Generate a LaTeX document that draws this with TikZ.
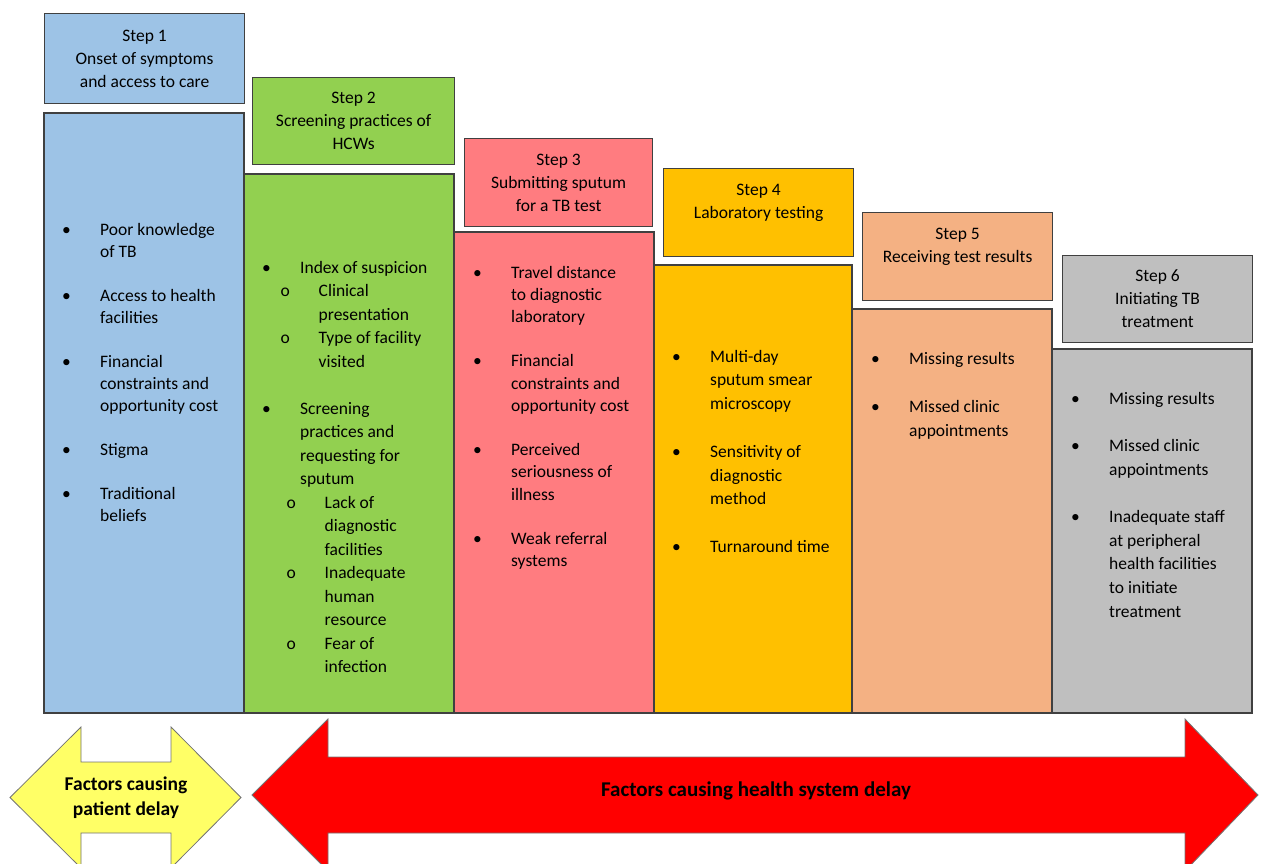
\documentclass[tikz,border=0pt]{standalone}
\usepackage{fontspec}
\setmainfont{Carlito}

\definecolor{boxline}{HTML}{404040}
\definecolor{stepblue}{HTML}{9DC3E6}
\definecolor{stepgreen}{HTML}{92D050}
\definecolor{steppink}{HTML}{FF7C80}
\definecolor{steporange}{HTML}{FFC000}
\definecolor{steppeach}{HTML}{F4B183}
\definecolor{stepgray}{HTML}{BFBFBF}
\definecolor{patientyellow}{HTML}{FFFF66}
\definecolor{systemred}{HTML}{FF0000}

% bullet, sub bullet and indent of the lists
\newcommand{\bl}{\makebox[38pt][l]{\textbullet}}
\newcommand{\sbl}{\makebox[38pt][l]{o}}
\newcommand{\ind}{\hspace*{38pt}}

\tikzset{
  stephead/.style={draw=boxline, line width=1.2pt, inner sep=0pt, align=center,
    anchor=north west, font=\fontsize{17.5}{23}\selectfont},
  bodybox/.style={draw=boxline, line width=1.2pt},
  itemlist/.style={anchor=base west, inner sep=0pt},
  delayarrow/.style={draw=black!55, line width=0.8pt},
  delaytext/.style={align=center, inner sep=0pt, font=\bfseries\fontsize{19.5}{25}\selectfont}
}

\begin{document}
\begin{tikzpicture}[x=1pt, y=-1pt]
  \useasboundingbox (0,0) rectangle (1269,864);

  % Step headers
  \node[stephead, fill=stepblue, minimum width=200pt, minimum height=90pt] (s1) at (44,13)
    {Step 1\\Onset of symptoms\\and access to care};
  \node[stephead, fill=stepgreen, minimum width=202pt, minimum height=87pt] (s2) at (252,77)
    {Step 2\\Screening practices of\\HCWs};
  \node[stephead, fill=steppink, minimum width=188pt, minimum height=88pt] (s3) at (464,138)
    {Step 3\\Submitting sputum\\for a TB test};
  \node[stephead, fill=steporange, minimum width=190pt, minimum height=88pt] (s4) at (663,168)
    {Step 4\\Laboratory testing\\\mbox{}};
  \node[stephead, fill=steppeach, minimum width=190pt, minimum height=88pt] (s5) at (862,212)
    {Step 5\\Receiving test results\\\mbox{}};
  \node[stephead, fill=stepgray, minimum width=190pt, minimum height=87pt] (s6) at (1062,255)
    {Step 6\\Initiating TB\\treatment};

  % Columns of factors
  \filldraw[bodybox, fill=stepblue] (44,113) rectangle (244,713);
  \filldraw[bodybox, fill=stepgreen] (244,174) rectangle (454,713);
  \filldraw[bodybox, fill=steppink] (454,232) rectangle (654,713);
  \filldraw[bodybox, fill=steporange] (654,265) rectangle (852,713);
  \filldraw[bodybox, fill=steppeach] (852,309) rectangle (1052,713);
  \filldraw[bodybox, fill=stepgray] (1052,349) rectangle (1252,713);

  % Lists
  \node[itemlist, font=\fontsize{17.5}{22}\selectfont] (l1) at (62,235) {%
    \begin{tabular}[t]{@{}l@{}}
      \bl Poor knowledge\\ \ind of TB\\[22pt]
      \bl Access to health\\ \ind facilities\\[22pt]
      \bl Financial\\ \ind constraints and\\ \ind opportunity cost\\[22pt]
      \bl Stigma\\[22pt]
      \bl Traditional\\ \ind beliefs
    \end{tabular}};
  \node[itemlist, font=\fontsize{17.5}{23.5}\selectfont] (l2) at (262,273) {%
    \begin{tabular}[t]{@{}l@{}}
      \bl Index of suspicion\\
      \hspace*{18.5pt}\sbl Clinical\\ \hspace*{56.5pt}presentation\\
      \hspace*{18.5pt}\sbl Type of facility\\ \hspace*{56.5pt}visited\\[23.5pt]
      \bl Screening\\ \ind practices and\\ \ind requesting for\\ \ind sputum\\
      \hspace*{24.5pt}\sbl Lack of\\ \hspace*{62.5pt}diagnostic\\ \hspace*{62.5pt}facilities\\
      \hspace*{24.5pt}\sbl Inadequate\\ \hspace*{62.5pt}human\\ \hspace*{62.5pt}resource\\
      \hspace*{24.5pt}\sbl Fear of\\ \hspace*{62.5pt}infection
    \end{tabular}};
  \node[itemlist, font=\fontsize{17.5}{22.2}\selectfont] (l3) at (473,278) {%
    \begin{tabular}[t]{@{}l@{}}
      \bl Travel distance\\ \ind to diagnostic\\ \ind laboratory\\[22.2pt]
      \bl Financial\\ \ind constraints and\\ \ind opportunity cost\\[22.2pt]
      \bl Perceived\\ \ind seriousness of\\ \ind illness\\[22.2pt]
      \bl Weak referral\\ \ind systems
    \end{tabular}};
  \node[itemlist, font=\fontsize{17.5}{23.8}\selectfont] (l4) at (672,362) {%
    \begin{tabular}[t]{@{}l@{}}
      \bl Multi-day\\ \ind sputum smear\\ \ind microscopy\\[23.8pt]
      \bl Sensitivity of\\ \ind diagnostic\\ \ind method\\[23.8pt]
      \bl Turnaround time
    \end{tabular}};
  \node[itemlist, font=\fontsize{17.5}{24}\selectfont] (l5) at (871,364) {%
    \begin{tabular}[t]{@{}l@{}}
      \bl Missing results\\[24pt]
      \bl Missed clinic\\ \ind appointments
    \end{tabular}};
  \node[itemlist, font=\fontsize{17.5}{23.7}\selectfont] (l6) at (1071,404) {%
    \begin{tabular}[t]{@{}l@{}}
      \bl Missing results\\[23.7pt]
      \bl Missed clinic\\ \ind appointments\\[23.7pt]
      \bl Inadequate staff\\ \ind at peripheral\\ \ind health facilities\\ \ind to initiate\\ \ind treatment
    \end{tabular}};

  % Delay arrows
  \filldraw[delayarrow, fill=patientyellow] (10,797.5) -- (81,727) -- (81,762) -- (171,762)
    -- (171,727) -- (241,797.5) -- (171,868) -- (171,833) -- (81,833) -- (81,868) -- cycle;
  \filldraw[delayarrow, fill=systemred] (252,795) -- (328,719) -- (328,757) -- (1185,757)
    -- (1185,719) -- (1258,795) -- (1185,871) -- (1185,833) -- (328,833) -- (328,871) -- cycle;

  \node[delaytext] (patient) at (126,797.5) {Factors causing\\patient delay};
  \node[delaytext, font=\bfseries\fontsize{21}{25}\selectfont] (system) at (756,791)
    {Factors causing health system delay};

\end{tikzpicture}
\end{document}
